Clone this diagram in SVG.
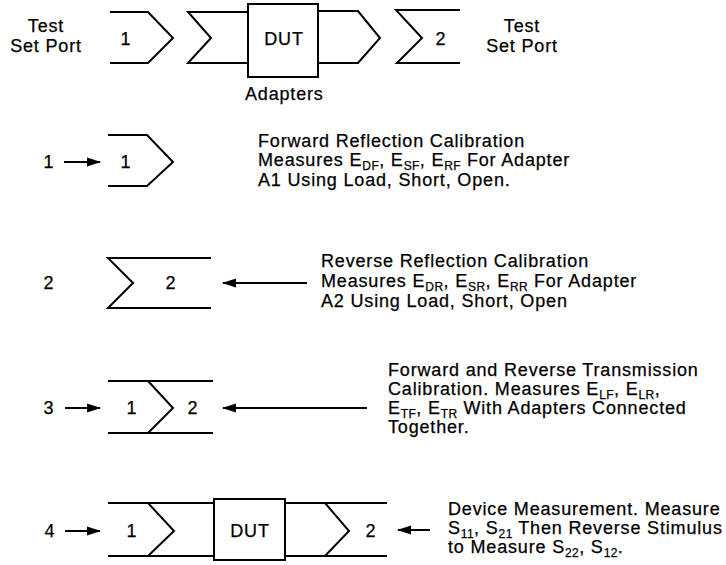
<svg xmlns="http://www.w3.org/2000/svg" width="726" height="565" viewBox="0 0 726 565">
<defs>
<style>
.s{fill:none;stroke:#000;stroke-width:2;stroke-linejoin:miter}
.t{font-family:"Liberation Sans",Arial,sans-serif;font-size:18px;letter-spacing:0.83px;fill:#000;stroke:#000;stroke-width:0.25px}
.m{text-anchor:middle}
.b{font-size:12px;letter-spacing:0.4px}
.l{stroke:#000;stroke-width:2}
</style>
<marker id="ah" markerWidth="14" markerHeight="10" refX="13" refY="5" orient="auto" markerUnits="userSpaceOnUse">
<path d="M0,0.5 L14,5 L0,9.5 Z" fill="#000"/>
</marker>
</defs>
<rect width="726" height="565" fill="#fff"/>

<g id="top-row">
<path class="s" d="M110,12 H148 L173,38 L148,63 H110"/>
<path class="s" d="M248,12 H188 L211,38 L188,63 H248"/>
<rect class="s" x="248" y="4" width="70" height="73"/>
<path class="s" d="M318,11 H358 L380,38 L358,63 H318"/>
<path class="s" d="M460,10 H396 L422,38 L397,63 H460"/>
<text class="t m" x="46" y="32">Test</text>
<text class="t m" x="46" y="52">Set Port</text>
<text class="t m" x="522" y="32">Test</text>
<text class="t m" x="522" y="52">Set Port</text>
<text class="t m" x="126" y="45">1</text>
<text class="t m" x="284" y="45">DUT</text>
<text class="t m" x="441" y="45">2</text>
<text class="t" x="245" y="100">Adapters</text>
</g>

<g id="step1">
<path class="s" d="M108,135 H147 L173,162 L147,186 H108"/>
<text class="t m" x="49" y="168">1</text>
<text class="t m" x="126" y="168">1</text>
<text class="t" x="258" y="147">Forward Reflection Calibration</text>
<text class="t" x="258" y="166">Measures E<tspan class="b" dy="3.5">DF</tspan><tspan dy="-3.5">, E</tspan><tspan class="b" dy="3.5">SF</tspan><tspan dy="-3.5">, E</tspan><tspan class="b" dy="3.5">RF</tspan><tspan dy="-3.5"> For Adapter</tspan></text>
<text class="t" x="258" y="186">A1 Using Load, Short, Open.</text>
</g>

<g id="step2">
<path class="s" d="M211,258 H108 L133,283 L108,308 H211"/>
<text class="t m" x="49" y="289">2</text>
<text class="t m" x="171" y="289">2</text>
<text class="t" x="321" y="267">Reverse Reflection Calibration</text>
<text class="t" x="321" y="287">Measures E<tspan class="b" dy="3.5">DR</tspan><tspan dy="-3.5">, E</tspan><tspan class="b" dy="3.5">SR</tspan><tspan dy="-3.5">, E</tspan><tspan class="b" dy="3.5">RR</tspan><tspan dy="-3.5"> For Adapter</tspan></text>
<text class="t" x="321" y="307">A2 Using Load, Short, Open</text>
</g>

<g id="step3">
<path class="s" d="M108,381 H213 M108,433 H213 M148,381 L173,408 L148,433"/>
<text class="t m" x="49" y="414">3</text>
<text class="t m" x="132" y="414">1</text>
<text class="t m" x="193" y="414">2</text>
<text class="t" x="388" y="376">Forward and Reverse Transmission</text>
<text class="t" x="388" y="395">Calibration. Measures E<tspan class="b" dy="3.5">LF</tspan><tspan dy="-3.5">, E</tspan><tspan class="b" dy="3.5">LR</tspan><tspan dy="-3.5">,</tspan></text>
<text class="t" x="388" y="414">E<tspan class="b" dy="3.5">TF</tspan><tspan dy="-3.5">, E</tspan><tspan class="b" dy="3.5">TR</tspan><tspan dy="-3.5"> With Adapters Connected</tspan></text>
<text class="t" x="388" y="433">Together.</text>
</g>

<g id="step4">
<path class="s" d="M108,503 H214 M108,556 H214 M285,503 H387 M285,556 H387 M148,503 L174,531 L148,556 M325,503 L349,531 L325,556"/>
<rect class="s" x="214" y="499" width="71" height="61"/>
<text class="t m" x="50" y="537">4</text>
<text class="t m" x="132" y="537">1</text>
<text class="t m" x="250" y="537">DUT</text>
<text class="t m" x="371" y="537">2</text>
<text class="t" x="448" y="515">Device Measurement. Measure</text>
<text class="t" x="448" y="534">S<tspan class="b" dy="3.5">11</tspan><tspan dy="-3.5">, S</tspan><tspan class="b" dy="3.5">21</tspan><tspan dy="-3.5"> Then Reverse Stimulus</tspan></text>
<text class="t" x="448" y="553">to Measure S<tspan class="b" dy="3.5">22</tspan><tspan dy="-3.5">, S</tspan><tspan class="b" dy="3.5">12</tspan><tspan dy="-3.5">.</tspan></text>
</g>

<g id="connectors">
<line class="l" x1="64" y1="162" x2="100" y2="162" marker-end="url(#ah)"/>
<line class="l" x1="307" y1="283" x2="223" y2="283" marker-end="url(#ah)"/>
<line class="l" x1="65" y1="408" x2="100" y2="408" marker-end="url(#ah)"/>
<line class="l" x1="367" y1="408" x2="223" y2="408" marker-end="url(#ah)"/>
<line class="l" x1="65" y1="531" x2="100" y2="531" marker-end="url(#ah)"/>
<line class="l" x1="430" y1="530" x2="398" y2="530" marker-end="url(#ah)"/>
</g>
</svg>
